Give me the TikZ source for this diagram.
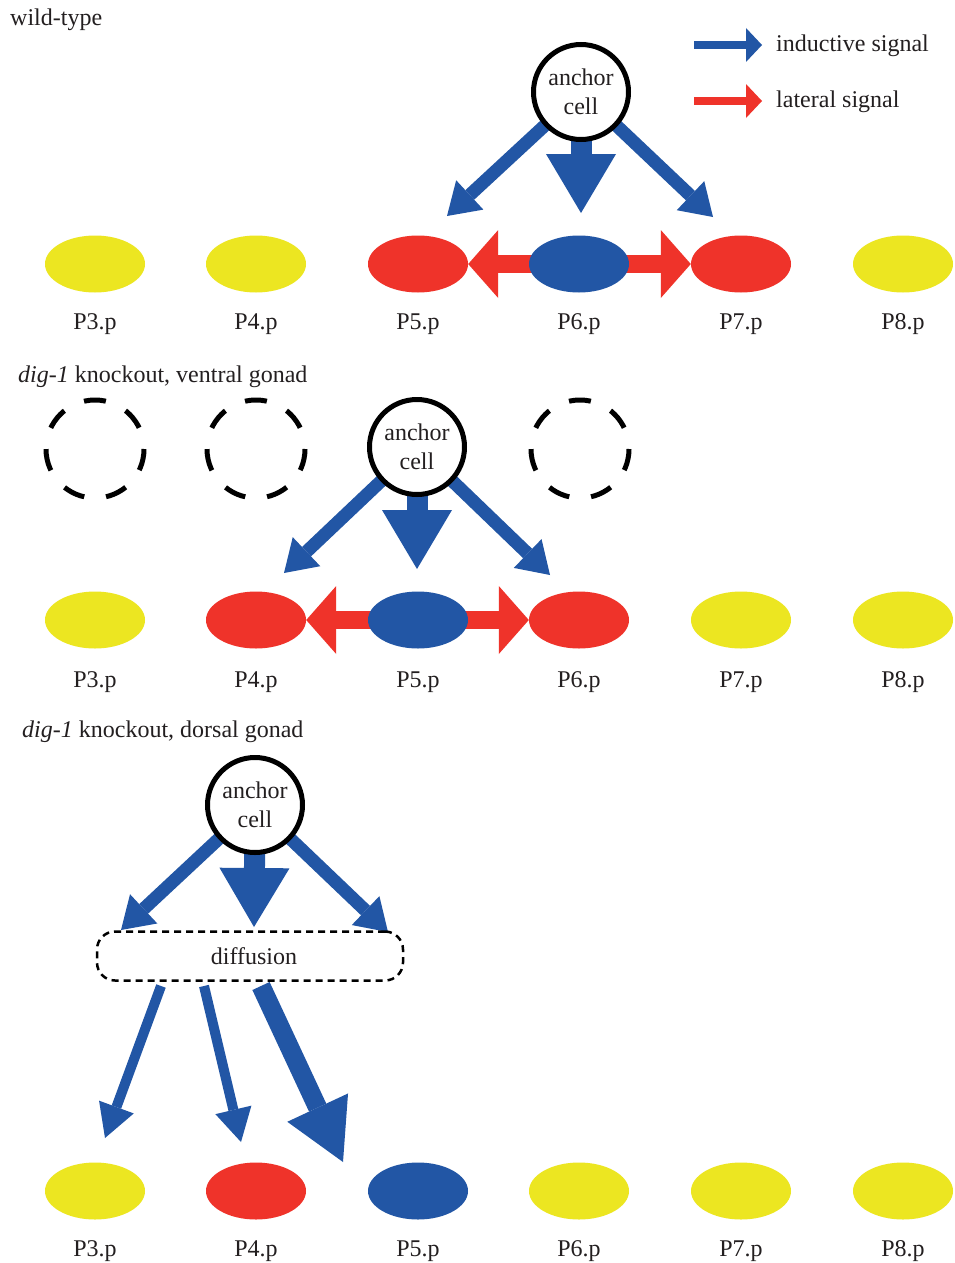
\documentclass[tikz,border=0pt]{standalone}
\usepackage{fontspec}
\setmainfont{Liberation Serif}
\usetikzlibrary{shapes.geometric,arrows.meta}
\definecolor{cyel}{RGB}{236,230,33}
\definecolor{cred}{RGB}{239,51,42}
\definecolor{cblu}{RGB}{34,86,165}
\definecolor{ctxt}{RGB}{35,31,32}
\pgfdeclarelayer{bg}
\pgfdeclarelayer{paper}
\pgfsetlayers{paper,bg,main}
\tikzset{
  txt/.style={font=\fontsize{24}{29}\selectfont, text=ctxt, inner sep=0pt},
  cellY/.style={ellipse, minimum width=100pt, minimum height=57pt, inner sep=0pt, fill=cyel},
  cellR/.style={ellipse, minimum width=100pt, minimum height=57pt, inner sep=0pt, fill=cred},
  cellB/.style={ellipse, minimum width=100pt, minimum height=57pt, inner sep=0pt, fill=cblu},
  anchorcell/.style={circle, draw=black, line width=5pt, fill=white, minimum size=95pt, inner sep=0pt, align=center, txt},
  ghost/.style={circle, draw=black, line width=5pt, minimum size=98pt, inner sep=0pt, dash pattern=on 22pt off 22pt, dash phase=22pt},
  thinarr/.style={draw=cblu, line width=13pt, -{Triangle[width=40pt,length=31pt,line width=0pt]}},
  fatarr/.style={draw=cblu, line width=21pt, -{Triangle[width=70pt,length=59pt,line width=0pt]}},
  latarr/.style={draw=cred, line width=18pt, -{Triangle[width=68pt,length=30pt,line width=0pt]}},
  legarr/.style={line width=8pt, -{Triangle[width=34pt,length=16pt,line width=0pt]}},
  diffarr/.style={draw=cblu, line width=10pt, -{Triangle[width=37pt,length=33pt,line width=0pt]}},
  bigdiffarr/.style={draw=cblu, line width=19pt, -{Triangle[width=67pt,length=60pt,line width=0pt]}},
}
\begin{document}
\begin{tikzpicture}[x=1pt,y=-1pt]
\useasboundingbox (0,0) rectangle (954,1263);
\begin{pgfonlayer}{paper}
  \fill[white] (0,0) rectangle (954,1263);
\end{pgfonlayer}

% ---------- headings ----------
\node[txt, anchor=west] (h1) at (10,20) {wild-type};
\node[txt, anchor=west] (h2) at (18,377) {\textit{dig-1} knockout, ventral gonad};
\node[txt, anchor=west] (h3) at (22,732) {\textit{dig-1} knockout, dorsal gonad};

% ---------- legend ----------
\coordinate (lg1s) at (694,45);
\coordinate (lg1e) at (762,45);
\coordinate (lg2s) at (694,101);
\coordinate (lg2e) at (762,101);
\node[txt, anchor=west] (lg1t) at (776,46) {inductive signal};
\node[txt, anchor=west] (lg2t) at (776,102) {lateral signal};
\draw[legarr, draw=cblu] (lg1s) -- (lg1e);
\draw[legarr, draw=cred] (lg2s) -- (lg2e);

% ---------- row 1: wild-type ----------
\node[anchorcell] (ac1) at (581,92) {anchor\\cell};
\node[cellY] (a3) at (95,264) {};
\node[cellY] (a4) at (256,264) {};
\node[cellR] (a5) at (418,264) {};
\node[cellB] (a6) at (579,264) {};
\node[cellR] (a7) at (741,264) {};
\node[cellY] (a8) at (903,264) {};
\foreach \n/\x in {3/95,4/256,5/418,6/579,7/741,8/903}
  \node[txt] (la\n) at (\x,324) {P\n.p};
\coordinate (t1l) at (447,216);
\coordinate (t1c) at (581,213);
\coordinate (t1r) at (713,217);
\begin{pgfonlayer}{bg}
  \draw[thinarr] (ac1.center) -- (t1l);
  \draw[thinarr] (ac1.center) -- (t1r);
  \draw[fatarr] (ac1.center) -- (t1c);
  \draw[latarr] (a6.center) -- (a5.east);
  \draw[latarr] (a6.center) -- (a7.west);
\end{pgfonlayer}

% ---------- row 2: ventral gonad ----------
\node[ghost] (g3) at (95,449) {};
\node[ghost] (g4) at (256,449) {};
\node[ghost] (g6) at (580,449) {};
\node[anchorcell] (ac2) at (417,447) {anchor\\cell};
\node[cellY] (b3) at (95,620) {};
\node[cellR] (b4) at (256,620) {};
\node[cellB] (b5) at (418,620) {};
\node[cellR] (b6) at (579,620) {};
\node[cellY] (b7) at (741,620) {};
\node[cellY] (b8) at (903,620) {};
\foreach \n/\x in {3/95,4/256,5/418,6/579,7/741,8/903}
  \node[txt] (lb\n) at (\x,682) {P\n.p};
\coordinate (t2l) at (284,573);
\coordinate (t2c) at (417,569);
\coordinate (t2r) at (550,575);
\begin{pgfonlayer}{bg}
  \draw[thinarr] (ac2.center) -- (t2l);
  \draw[thinarr] (ac2.center) -- (t2r);
  \draw[fatarr] (ac2.center) -- (t2c);
  \draw[latarr] (b5.center) -- (b4.east);
  \draw[latarr] (b5.center) -- (b6.west);
\end{pgfonlayer}

% ---------- row 3: dorsal gonad ----------
\node[anchorcell] (ac3) at (255,805) {anchor\\cell};
\node[txt, draw=black, line width=2.5pt, dash pattern=on 7pt off 5pt, rounded corners=18pt,
      minimum width=306pt, minimum height=49pt] (diff) at (250,956) {\hspace*{8pt}diffusion};
\node[cellY] (c3) at (95,1191) {};
\node[cellR] (c4) at (256,1191) {};
\node[cellB] (c5) at (418,1191) {};
\node[cellY] (c6) at (579,1191) {};
\node[cellY] (c7) at (741,1191) {};
\node[cellY] (c8) at (903,1191) {};
\foreach \n/\x in {3/95,4/256,5/418,6/579,7/741,8/903}
  \node[txt] (lc\n) at (\x,1251) {P\n.p};
\coordinate (t3l) at (121,930);
\coordinate (t3c) at (254,927);
\coordinate (t3r) at (388,932);
\coordinate (d1s) at (161,986);
\coordinate (d1e) at (105,1138);
\coordinate (d2s) at (204,986);
\coordinate (d2e) at (241,1142);
\coordinate (d3s) at (261,986);
\coordinate (d3e) at (343,1162);
\begin{pgfonlayer}{bg}
  \draw[thinarr] (ac3.center) -- (t3l);
  \draw[thinarr] (ac3.center) -- (t3r);
  \draw[fatarr] (ac3.center) -- (t3c);
\end{pgfonlayer}
\draw[diffarr] (d1s) -- (d1e);
\draw[diffarr] (d2s) -- (d2e);
\draw[bigdiffarr] (d3s) -- (d3e);
\end{tikzpicture}
\end{document}
